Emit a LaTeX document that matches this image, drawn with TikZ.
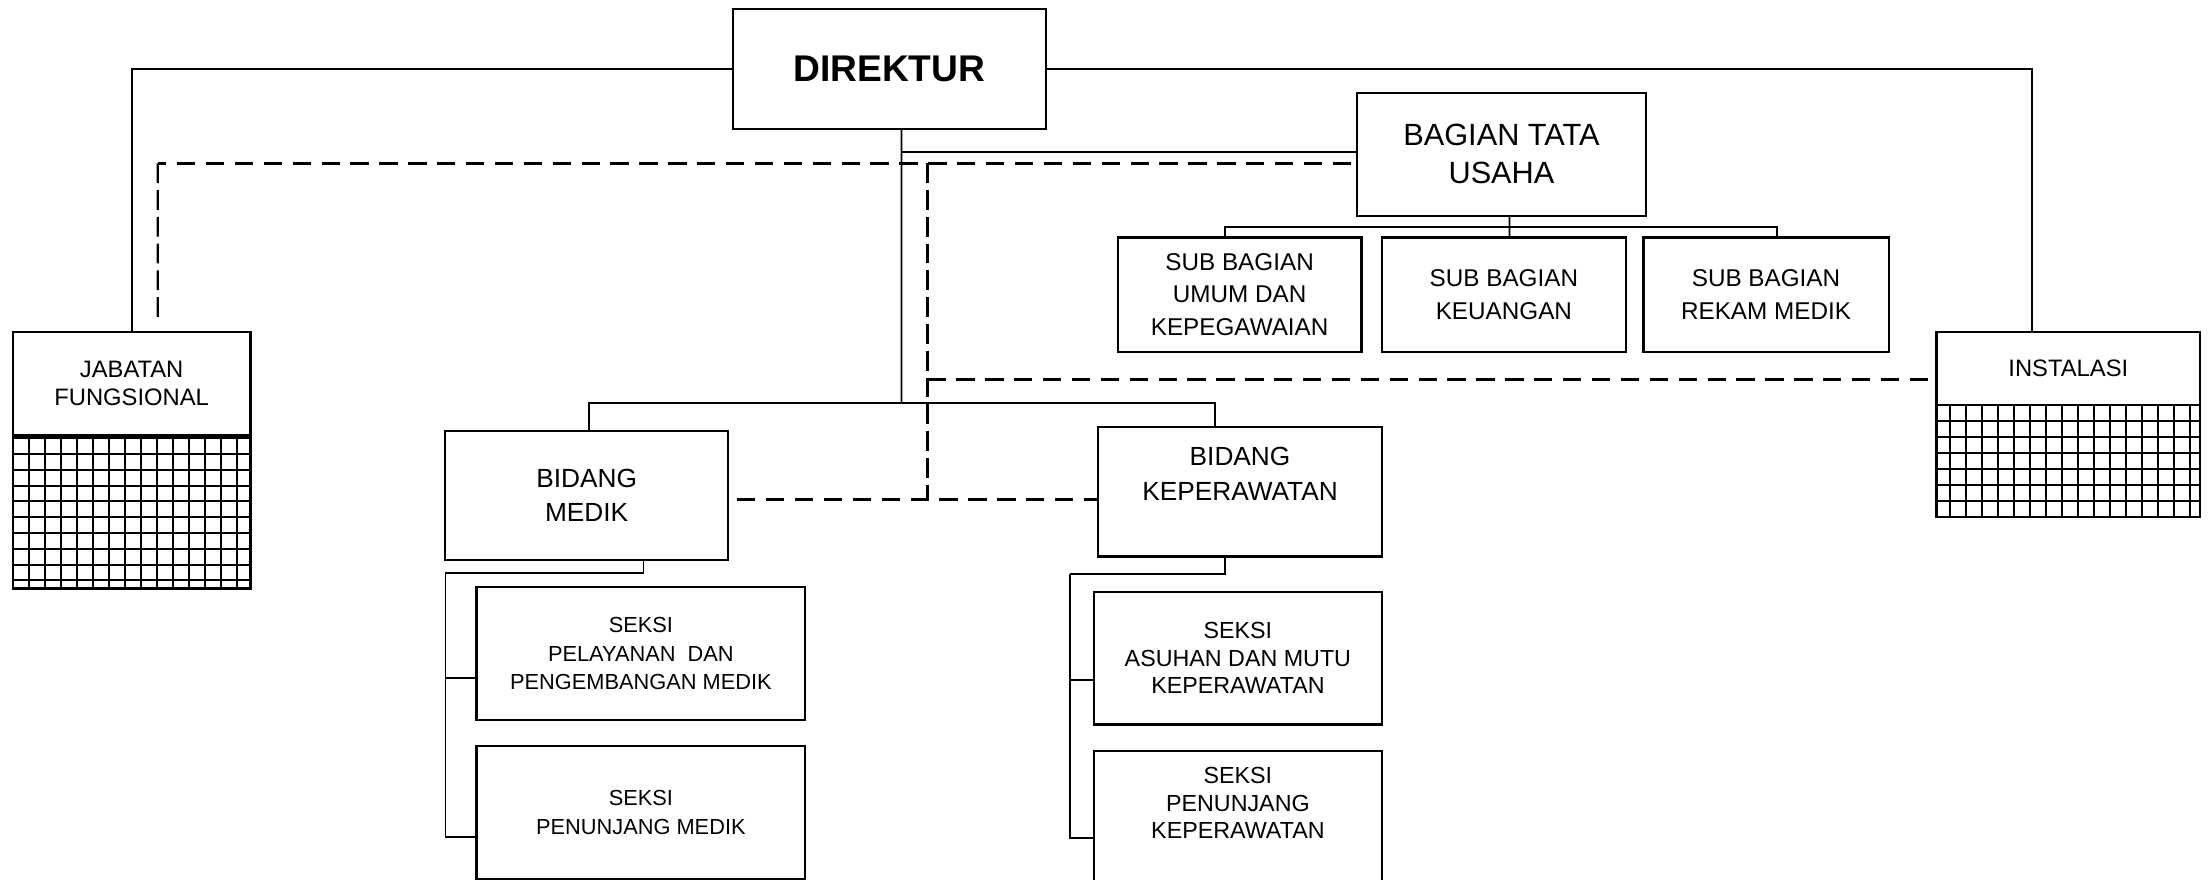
\documentclass[tikz,border=0pt]{standalone}
\usepackage{fontspec}
\setmainfont{Liberation Sans}
\newcommand{\myfs}[2]{\fontsize{#1}{#2}\selectfont}
\begin{document}
\begin{tikzpicture}[x=0.1mm,y=-0.1mm,
  box/.style={draw, line width=0.45pt, inner sep=0pt, align=center},
  conn/.style={line width=0.35pt},
  dthick/.style={line width=0.6pt, dash pattern=on 1.3mm off 0.75mm},
  dthin/.style={line width=0.45pt, dash pattern=on 1.4mm off 0.5mm},
  gridl/.style={line width=0.4pt}]
\useasboundingbox (0,0) rectangle (1568,624);
\fill[white] (0,0) rectangle (1568,624);

% boxes
\node[box, minimum width=22.2mm, minimum height=8.5mm, font=\bfseries\myfs{7.5}{9}] (dir) at (631,49) {DIREKTUR};
\node[box, minimum width=20.5mm, minimum height=8.7mm, font=\myfs{6.2}{7.7}] (btu) at (1065.3,109.5) {BAGIAN TATA\\USAHA};
\node[box, minimum width=17.3mm, minimum height=8.1mm, font=\myfs{4.9}{6.5}] (sb1) at (879.5,209) {SUB BAGIAN\\UMUM DAN\\KEPEGAWAIAN};
\node[box, minimum width=17.3mm, minimum height=8.1mm, font=\myfs{4.9}{6.5}] (sb2) at (1067,209) {SUB BAGIAN\\KEUANGAN};
\node[box, minimum width=17.4mm, minimum height=8.1mm, font=\myfs{4.9}{6.5}] (sb3) at (1253,209) {SUB BAGIAN\\REKAM MEDIK};
\node[box, minimum width=16.87mm, minimum height=7.37mm, font=\myfs{4.8}{5.6}] (jab) at (93.4,272.2) {JABATAN\\FUNGSIONAL};
\node[box, minimum width=16.87mm, minimum height=10.86mm] (jabg) at (93.4,363.3) {};
\node[box, minimum width=18.7mm, minimum height=5.21mm, font=\myfs{4.8}{5.6}] (ins) at (1467.5,261.4) {INSTALASI};
\node[box, minimum width=18.7mm, minimum height=7.92mm] (insg) at (1467.5,327) {};
\node[box, minimum width=20.05mm, minimum height=9.17mm, font=\myfs{5.3}{6.85}] (bm) at (416.2,351.5) {BIDANG\\MEDIK};
\node[box, minimum width=20.16mm, minimum height=9.2mm, font=\myfs{5.3}{7.1}] (bk) at (879.8,348.8) {BIDANG\\KEPERAWATAN\\\mbox{}};
\node[box, minimum width=23.34mm, minimum height=9.44mm, font=\myfs{4.4}{5.8}] (s1) at (454.7,463.7) {SEKSI\\PELAYANAN\ \ DAN\\PENGEMBANGAN MEDIK};
\node[box, minimum width=23.34mm, minimum height=9.44mm, font=\myfs{4.4}{5.75}] (s2) at (454.7,576.5) {SEKSI\\PENUNJANG MEDIK};
\node[box, minimum width=20.46mm, minimum height=9.4mm, font=\myfs{4.7}{5.55}] (s3) at (878.3,467) {SEKSI\\ASUHAN DAN MUTU\\KEPERAWATAN};
\node[box, minimum width=20.46mm, minimum height=9.3mm, font=\myfs{4.7}{5.55}] (s4) at (878.3,579.5) {SEKSI\\PENUNJANG\\KEPERAWATAN\\\mbox{}};

% grids
\begin{scope}
\clip (jabg.north west) rectangle (jabg.south east);
\foreach \k in {1,...,14} \draw[gridl] (9+\k*11.35,309) -- (9+\k*11.35,417.6);
\foreach \k in {0,...,9} \draw[gridl] (9,311+\k*11.2) -- (177.7,311+\k*11.2);
\end{scope}
\begin{scope}
\clip (insg.north west) rectangle (insg.south east);
\foreach \k in {0,...,15} \draw[gridl] (1383.5+\k*11.35,287.4) -- (1383.5+\k*11.35,366.6);
\foreach \k in {1,...,6} \draw[gridl] (1374,287.4+\k*11.3) -- (1561,287.4+\k*11.3);
\end{scope}

% solid connectors
\draw[conn] (dir.west) -| (jab.north);
\draw[conn] (dir.east) -| ([xshift=-2.6mm]ins.north);
\coordinate (hub) at (639.6,286);
\coordinate (tj) at (639.6,108);
\draw[conn] ([xshift=0.86mm]dir.south) -- (hub);
\draw[conn] (hub) -| ([xshift=0.18mm]bm.north);
\draw[conn] (hub) -| ([xshift=-1.78mm]bk.north);
\draw[conn] (tj) -- (btu.west |- tj);

\coordinate (tb) at (1071,161);
\draw[conn] ([xshift=0.57mm]btu.south) -- ([xshift=0.4mm]sb2.north);
\draw[conn] ([xshift=-1.05mm]sb1.north) |- (tb) -| ([xshift=0.8mm]sb3.north);

\coordinate (mk) at (316,406.5);
\draw[conn] ([xshift=4.04mm]bm.south) |- (mk);
\coordinate (m1) at ([yshift=-1.73mm]s1.west);
\coordinate (m2) at ([yshift=-1.72mm]s2.west);
\draw[conn] (mk) |- (m2);
\draw[conn] (m1) -- (m1 -| mk);

\coordinate (kk) at (759,407.3);
\draw[conn] ([xshift=-1.08mm]bk.south) |- (kk);
\coordinate (k1) at ([yshift=-1.55mm]s3.west);
\coordinate (k2) at ([yshift=-1.51mm]s4.west);
\draw[conn] (kk) |- (k2);
\draw[conn] (k1) -- (k1 -| kk);

% dashed connectors
\coordinate (dcr) at (958.6,115.9);
\coordinate (dc1) at (112,115.9);
\coordinate (dc2) at (658,115.9);
\coordinate (dc3) at (658,354.5);
\coordinate (dbm) at (523,354.5);
\coordinate (di) at (658,269.6);
\draw[dthick] (dcr) -- (dc1);
\draw[dthin] (dc1) -- ([xshift=1.86mm,yshift=0.5mm]jab.north);
\draw[dthin] (dc2) -- (dc3);
\draw[dthick] (dbm) -- (bk.west |- dc3);
\draw[dthick] (di) -- (ins.west |- di);
\end{tikzpicture}
\end{document}
